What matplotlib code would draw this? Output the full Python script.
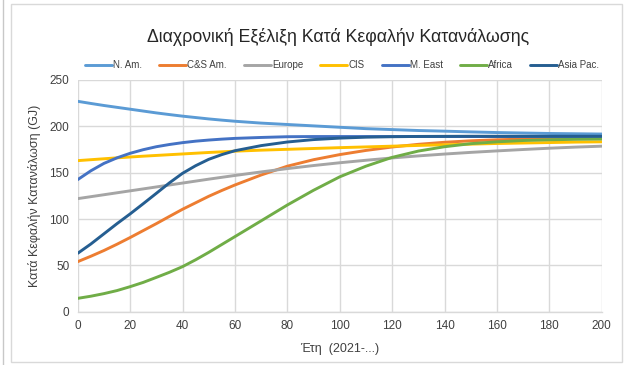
import matplotlib
matplotlib.use("Agg")
import matplotlib.pyplot as plt
from matplotlib.patches import Rectangle
from matplotlib.lines import Line2D

plt.rcParams['font.family'] = ['Liberation Sans', 'DejaVu Sans']

# sampled every 5 years up to 60, then every 10 years
years = [0, 5, 10, 15, 20, 25, 30, 35, 40, 45, 50, 55, 60,
         70, 80, 90, 100, 110, 120, 130, 140, 150, 160, 170, 180, 190, 200]

n_am = [227, 224.7, 222.5, 220.5, 218.5, 216.5, 214.5, 212.7, 211, 209.5, 208, 206.7, 205.5,
        203.5, 202, 200.5, 199, 197.5, 196.5, 195.5, 194.8, 194, 193.3, 192.8, 192.3, 192, 191.7]
cs_am = [54, 59.8, 66, 72.8, 80, 87.5, 95, 102.8, 110.5, 117.5, 124.5, 130.8, 136.7,
         147.5, 157, 164, 169.5, 174, 177.7, 180.6, 182.8, 184.4, 185.5, 186.2, 186.6, 186.8, 187]
europe = [122, 124.1, 126.2, 128.3, 130.4, 132.5, 134.6, 136.7, 138.8, 140.9, 143, 145, 147,
          150.8, 154.4, 157.7, 160.7, 163.4, 165.9, 168.1, 170.1, 171.9, 173.5, 175, 176.4, 177.6, 178.6]
cis = [163, 164, 165, 166, 166.9, 167.8, 168.6, 169.4, 170.2, 171, 171.8, 172.5, 173.2,
       174.3, 175.2, 176.1, 177, 177.8, 178.6, 179.4, 180.1, 180.8, 181.5, 182, 182.5, 183, 183.3]
m_east = [142.5, 152, 160, 166, 170.9, 174.8, 178, 180.4, 182.4, 184, 185.2, 186.2, 187,
          188, 188.8, 189, 189, 189, 189, 189, 189, 189, 189, 189, 189, 189, 189]
africa = [14.4, 16.7, 19.5, 22.8, 27, 31.6, 37, 42.5, 48.6, 56, 64, 72.5, 81,
          98, 115.1, 131, 145.5, 157, 166.5, 173.3, 178, 181.3, 183.3, 184.7, 185.5, 186, 186.3]
asia_pac = [63, 73, 84, 95, 105.5, 116.5, 127.7, 139, 149.3, 157.5, 164.4, 169.5, 173.7,
            179.2, 183.1, 185.7, 187.3, 188.3, 188.8, 189.1, 189.2, 189.3, 189.3, 189.3, 189.3, 189.3, 189.3]

series_names = ["N. Am.", "C&S Am.", "Europe", "CIS", "M. East", "Africa", "Asia Pac."]
series_values = [n_am, cs_am, europe, cis, m_east, africa, asia_pac]
series_colors = ["#5B9BD5", "#ED7D31", "#A5A5A5", "#FFC000", "#4472C4", "#70AD47", "#255E91"]

x_ticks = list(range(0, 201, 20))
y_ticks = list(range(0, 251, 50))

W, H = 629, 365
fig = plt.figure(figsize=(W / 100, H / 100), dpi=100)
fig.patch.set_facecolor("white")

# chart-area frame and neighbouring panel edge
fig.add_artist(Rectangle((11 / W, (H - 361.5) / H), (622 - 11) / W, (361.5 - 4) / H,
                         transform=fig.transFigure, fill=False,
                         edgecolor="#D9D9D9", linewidth=1.0))
fig.add_artist(Line2D([3 / W, 3 / W], [0, 1], transform=fig.transFigure,
                      color="#C8C8C8", linewidth=1.0))

ax = fig.add_axes([77.7 / W, (H - 311.7) / H, 524 / W, 231.7 / H])
ax.set_facecolor("white")

for name, vals, col in zip(series_names, series_values, series_colors):
    ax.plot(years, vals, color=col, linewidth=2.1, label=name,
            solid_capstyle="round", solid_joinstyle="round", zorder=3)

ax.set_xlim(0, 200)
ax.set_ylim(0, 250)
ax.set_xticks(x_ticks)
ax.set_yticks(y_ticks)
ax.grid(True, color="#D9D9D9", linewidth=1.0, zorder=0)
ax.set_axisbelow(True)
for side in ["top", "right", "left"]:
    ax.spines[side].set_visible(False)
ax.spines["bottom"].set_color("#D9D9D9")
ax.spines["bottom"].set_linewidth(1.0)
ax.tick_params(length=0, labelsize=8.5, labelcolor="#404040", pad=6)

ax.set_xlabel("Έτη  (2021-...)", fontsize=9, color="#404040", labelpad=8)
ax.set_ylabel("Κατά Κεφαλήν Κατανάλωση (GJ)", fontsize=9, color="#404040", labelpad=6)

fig.text(338 / W, (H - 37) / H, "Διαχρονική Εξέλιξη Κατά Κεφαλήν Κατανάλωσης",
         ha="center", va="center", fontsize=12.8, color="#262626")

leg = fig.legend(loc="center", bbox_to_anchor=(342 / W, (H - 65.5) / H), ncol=7,
                 frameon=False, fontsize=7, handlelength=2.8, handletextpad=0.1,
                 columnspacing=1.75, borderaxespad=0)
for t in leg.get_texts():
    t.set_color("#404040")
for h in leg.legend_handles:
    h.set_linewidth(2.1)

fig.savefig("out.png", dpi=100)
